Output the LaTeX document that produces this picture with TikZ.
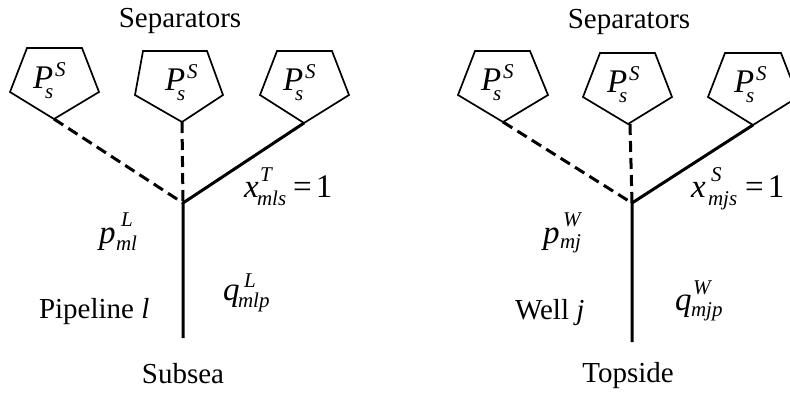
\documentclass[tikz,border=0pt]{standalone}
\usepackage{fontspec}
\setmainfont{Liberation Serif}
\newcommand\scr{\fontsize{21}{21}\selectfont}
\newcommand\mbig{\fontsize{33}{36}\selectfont}
% base, sup, sub, sup dx, sub dx, sup raise, sub lower
\newcommand\msym[7]{\rlap{\mbig\textit{#1}}\rlap{\hspace{#4pt}\raisebox{#6pt}{\scr\textit{#2}}}\hspace{#5pt}\raisebox{-#7pt}{\scr\textit{#3}}}
\newcommand\pss{\msym{P}{S}{s}{22}{12}{12}{10}}
\tikzset{
  pent/.style={draw=black, line width=1.7pt, line join=miter},
  solidln/.style={draw=black, line width=3pt},
  dashln/.style={draw=black, line width=3pt, dash pattern=on 11pt off 6pt},
  lbl/.style={inner sep=0pt, outer sep=0pt, anchor=base west, font=\fontsize{29}{34}\selectfont},
  ctxt/.style={inner sep=0pt, outer sep=0pt, anchor=base, font=\fontsize{29}{34}\selectfont}
}
\begin{document}
\begin{tikzpicture}[x=1pt,y=-1pt]
\useasboundingbox (0,0) rectangle (790,392);
\clip (0,0) rectangle (790,392);
% ---------- left diagram ----------
\draw[pent] (27,48) -- (82,48) -- (99,92) -- (54,119) -- (10,92) -- cycle;
\draw[pent] (143,51) -- (207,51) -- (223,95) -- (182,122) -- (135,95) -- cycle;
\draw[pent] (277,51) -- (332,51) -- (349,95) -- (304,123) -- (260,95) -- cycle;
\coordinate (LA) at (54,119);
\coordinate (LB) at (182,122);
\coordinate (LC) at (304,123);
\coordinate (LJ) at (183,203);
\coordinate (LE) at (183,338);
\draw[dashln] (LA) -- (LJ);
\draw[dashln] (LB) -- (LJ);
\draw[solidln] (LC) -- (LJ) -- (LE);
\node[lbl] (lp1) at (33,88) {\pss};
\node[lbl] (lp2) at (165,90) {\pss};
\node[lbl] (lp3) at (283,90) {\pss};
\node[ctxt] (lsep) at (180,27) {Separators};
\node[lbl] (lx) at (244,197) {\msym{x}{T}{mls}{16}{13}{16}{8}{\mbig\hspace{7pt}=\hspace{4pt}1}};
\node[lbl] (lpv) at (99,243) {\msym{p}{L}{ml}{22}{17}{17}{7}};
\node[lbl] (lqv) at (223,300) {\msym{q}{L}{mlp}{21}{15}{13}{7}};
\node[lbl] (lpipe) at (39,318) {Pipeline \textit{l}};
\node[ctxt] (lsub) at (183,383) {Subsea};
% ---------- right diagram ----------
\draw[pent] (475,51) -- (530,51) -- (548,95) -- (503,122) -- (458,95) -- cycle;
\draw[pent] (600,53) -- (655,53) -- (672,97) -- (628,124) -- (583,97) -- cycle;
\draw[pent] (725,53) -- (781,53) -- (798,97) -- (753,125) -- (708,97) -- cycle;
\coordinate (RA) at (503,122);
\coordinate (RB) at (630,124);
\coordinate (RC) at (753,125);
\coordinate (RJ) at (632,203);
\coordinate (RE) at (632,342);
\draw[dashln] (RA) -- (RJ);
\draw[dashln] (RB) -- (RJ);
\draw[solidln] (RC) -- (RJ) -- (RE);
\node[lbl] (rp1) at (481,90) {\pss};
\node[lbl] (rp2) at (607,92) {\pss};
\node[lbl] (rp3) at (734,92) {\pss};
\node[ctxt] (rsep) at (629,28) {Separators};
\node[lbl] (rx) at (691,197) {\msym{x}{S}{mjs}{20}{17}{16}{8}{\mbig\hspace{8pt}=\hspace{4pt}1}};
\node[lbl] (rpv) at (543,243) {\msym{p}{W}{mj}{20}{17}{17}{5}};
\node[lbl] (rqv) at (675,310) {\msym{q}{W}{mjp}{18}{16}{16}{6}};
\node[lbl] (rwell) at (515,319) {Well \textit{j}};
\node[ctxt] (rtop) at (628,382) {Topside};
\end{tikzpicture}
\end{document}
